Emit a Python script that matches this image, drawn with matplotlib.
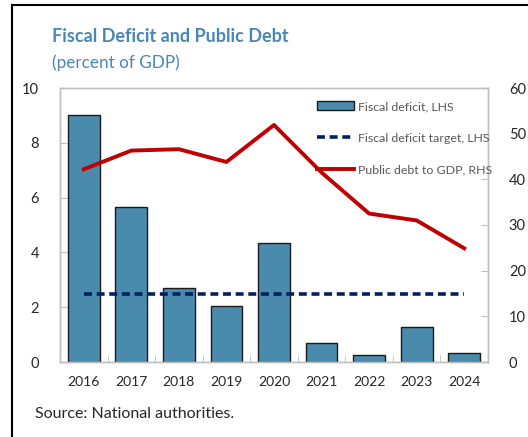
import matplotlib
matplotlib.use("Agg")
import matplotlib.pyplot as plt
from matplotlib.lines import Line2D
import numpy as np

years = ["2016", "2017", "2018", "2019", "2020", "2021", "2022", "2023", "2024"]
fiscal_deficit = [9.0, 5.66, 2.70, 2.05, 4.34, 0.68, 0.26, 1.28, 0.32]
deficit_target = [2.5, 2.5, 2.5, 2.5, 2.5, 2.5, 2.5, 2.5, 2.5]
public_debt = [42.2, 46.3, 46.6, 43.8, 51.9, 41.5, 32.5, 31.0, 24.9]

plt.rcParams['font.family'] = ['Lato', 'DejaVu Sans']

W, H = 528, 437
fig = plt.figure(figsize=(W/100, H/100), dpi=100)
ax = fig.add_axes([60/W, 1-362/H, 428/W, 274/H])
ax2 = ax.twinx()

x = np.arange(len(years))
bar_col = "#4a8aad"
ax.bar(x, fiscal_deficit, width=0.67, color=bar_col, edgecolor="#1a1a1a", linewidth=1.0,
       label="Fiscal deficit, LHS", zorder=2)
ax.plot(x, deficit_target, color="#002060", linestyle=(0, (2.2, 1.3)), linewidth=2.6,
        label="Fiscal deficit target, LHS", zorder=3)
ax2.plot(x, public_debt, color="#c00000", linewidth=2.8, label="Public debt to GDP, RHS",
         zorder=4)

ax.set_xlim(-0.5, 8.5)
ax.set_ylim(0, 10)
ax2.set_ylim(0, 60)
ax.set_yticks([0, 2, 4, 6, 8, 10])
ax2.set_yticks([0, 10, 20, 30, 40, 50, 60])
ax.set_xticks(x)
ax.set_xticklabels(years)
ax.set_xticks(np.arange(0.5, 8.5, 1), minor=True)

grey = "#bfbfbf"
txt = "#262626"
for a in (ax, ax2):
    for s in a.spines.values():
        s.set_color(grey)
        s.set_linewidth(1.0)
ax.tick_params(axis='y', direction='in', length=5, color=grey, labelsize=10.5, labelcolor=txt, pad=15)
ax2.tick_params(axis='y', direction='in', length=5, color=grey, labelsize=10.5, labelcolor=txt, pad=15)
ax.tick_params(axis='x', which='major', length=0, labelsize=10, labelcolor=txt, pad=10)
ax.tick_params(axis='x', which='minor', direction='in', length=5, color=grey)

ax2.set_zorder(ax.get_zorder() + 1)
ax2.patch.set_visible(False)

handles = [ax.containers[0], ax.get_lines()[0], ax2.get_lines()[0]]
labels = ["Fiscal deficit, LHS", "Fiscal deficit target, LHS", "Public debt to GDP, RHS"]
leg = ax2.legend(handles, labels, loc="upper left", bbox_to_anchor=((317-60)/428, (362-101)/274),
                 frameon=False, fontsize=8.9, labelspacing=1.68, handlelength=3.0,
                 handletextpad=0.35, borderaxespad=0, borderpad=0)
for t in leg.get_texts():
    t.set_color("#595959")

title_col = "#4a86b5"
fig.text(52/W, 1-36/H, "Fiscal Deficit and Public Debt", fontsize=13.0, fontweight="bold",
         color=title_col, va="center", ha="left")
fig.text(52/W, 1-63/H, "(percent of GDP)", fontsize=12.3, color=title_col, va="center", ha="left")
fig.text(35/W, 1-414/H, "Source: National authorities.", fontsize=11.5, color=txt, va="center", ha="left")

# frame lines (left and top)
fig.add_artist(Line2D([12/W, 12/W], [0, 1-5/H], transform=fig.transFigure, color="black", linewidth=1.5))
fig.add_artist(Line2D([12/W, 1], [1-5/H, 1-5/H], transform=fig.transFigure, color="black", linewidth=1.5))

fig.savefig("out.png", dpi=100)
